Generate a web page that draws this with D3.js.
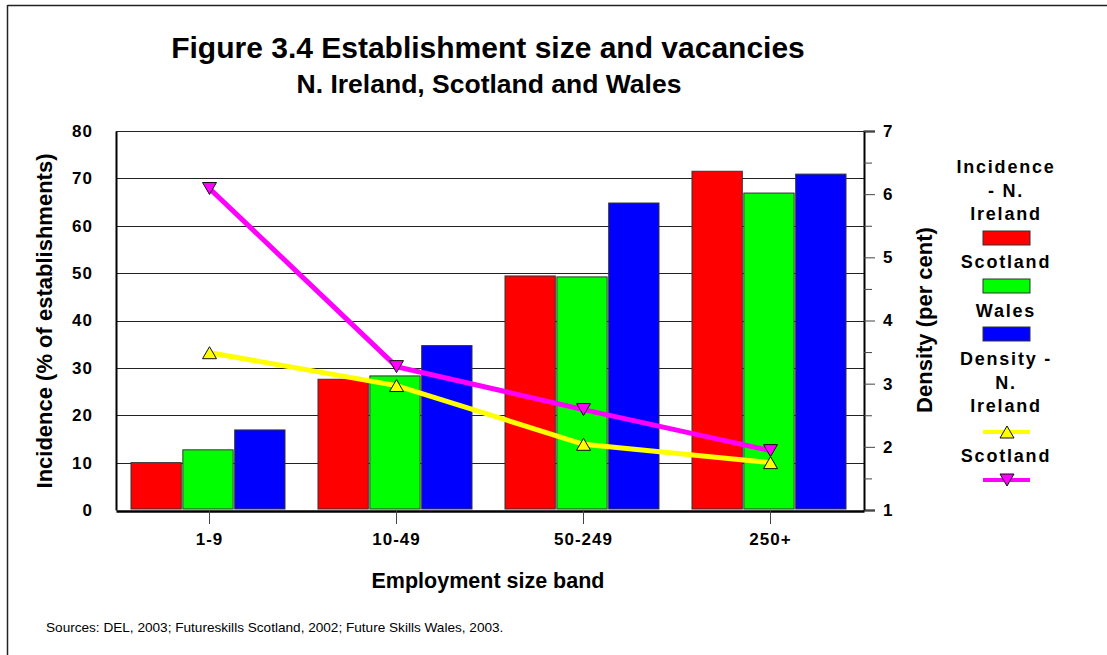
<!DOCTYPE html>
<html>
<head>
<meta charset="utf-8">
<script src="https://cdn.jsdelivr.net/npm/d3@7"></script>
<style>
  html, body { margin: 0; padding: 0; background: #fff; }
  svg { display: block; font-family: Arial, "Liberation Sans", sans-serif; }
</style>
</head>
<body>
<svg id="chart" width="1107" height="655"></svg>
<script>
// Employment size bands
const categories = ["1-9", "10-49", "50-249", "250+"];

// Incidence of vacancies (% of establishments), left axis
const incidenceNI = [10, 27.6, 49.4, 71.5];
const incidenceScotland = [12.7, 28.3, 49.2, 66.9];
const incidenceWales = [16.9, 34.7, 64.8, 70.9];

// Vacancy density (per cent), right axis
const densityNI = [3.49, 2.97, 2.04, 1.75];
const densityScotland = [6.09, 3.27, 2.59, 1.94];

const leftTicks = [0, 10, 20, 30, 40, 50, 60, 70, 80];
const rightTicks = [1, 2, 3, 4, 5, 6, 7];
const rightMinorTicks = [1.5, 2.5, 3.5, 4.5, 5.5, 6.5];

const barSeries = [
  { name: "Incidence - N. Ireland", values: incidenceNI, color: "#ff0000" },
  { name: "Scotland", values: incidenceScotland, color: "#00ff00" },
  { name: "Wales", values: incidenceWales, color: "#0000ff" }
];
const lineSeries = [
  { name: "Density - N. Ireland", values: densityNI, color: "#ffff00", symbol: "up" },
  { name: "Scotland", values: densityScotland, color: "#ff00ff", symbol: "down" }
];

const svg = d3.select("#chart");
const plot = { left: 116, right: 864, top: 131, bottom: 510 };
const FONT = "Arial, 'Liberation Sans', sans-serif";

// Outer frame (top and left edges)
svg.append("line").attr("x1", 7.5).attr("x2", 1107).attr("y1", 5.5).attr("y2", 5.5)
  .attr("stroke", "#222").attr("stroke-width", 1.5);
svg.append("line").attr("x1", 7.5).attr("x2", 7.5).attr("y1", 5).attr("y2", 655)
  .attr("stroke", "#222").attr("stroke-width", 1.5);

// Titles
svg.append("text").attr("x", 488).attr("y", 58).attr("text-anchor", "middle")
  .attr("font-size", 30).attr("font-weight", "bold").attr("fill", "#000")
  .text("Figure 3.4 Establishment size and vacancies");
svg.append("text").attr("x", 489).attr("y", 93).attr("text-anchor", "middle")
  .attr("font-size", 26.5).attr("font-weight", "bold").attr("fill", "#000")
  .text("N. Ireland, Scotland and Wales");

// Scales
const x0 = d3.scaleBand().domain(categories).range([plot.left, plot.right]);
const x1 = d3.scaleBand().domain(d3.range(barSeries.length))
  .range([15, x0.bandwidth() - 18]).paddingInner(0.03);
const yL = d3.scaleLinear().domain([0, 80]).range([plot.bottom, plot.top]);
const yR = d3.scaleLinear().domain([1, 7]).range([plot.bottom, plot.top]);

// Horizontal gridlines
svg.append("g").selectAll("line").data(leftTicks.slice(1)).join("line")
  .attr("x1", plot.left).attr("x2", plot.right)
  .attr("y1", d => Math.round(yL(d)) + 0.5).attr("y2", d => Math.round(yL(d)) + 0.5)
  .attr("stroke", "#222").attr("stroke-width", 1);

// Bars
barSeries.forEach((s, i) => {
  svg.append("g").selectAll("rect").data(s.values).join("rect")
    .attr("x", (d, j) => x0(categories[j]) + x1(i))
    .attr("width", x1.bandwidth())
    .attr("y", d => yL(d))
    .attr("height", d => yL(0) - yL(d) - 1)
    .attr("fill", s.color)
    .attr("stroke", "#333").attr("stroke-width", 1);
});

// Axes
const axisLeft = d3.axisLeft(yL).tickValues(leftTicks).tickSize(0).tickPadding(23);
const gL = svg.append("g").attr("transform", `translate(${plot.left},0)`).call(axisLeft);
gL.select(".domain").attr("stroke", "#000").attr("stroke-width", 2);
gL.selectAll("text").attr("font-size", 17).attr("font-weight", "bold")
  .attr("letter-spacing", 1).attr("font-family", FONT).attr("fill", "#000");

const axisRight = d3.axisRight(yR).tickValues(rightTicks).tickSize(11).tickPadding(8)
  .tickFormat(d3.format("d"));
const gR = svg.append("g").attr("transform", `translate(${plot.right},0)`).call(axisRight);
gR.select(".domain").attr("stroke", "#000").attr("stroke-width", 2);
gR.selectAll(".tick line").attr("stroke", "#444");
gR.selectAll("text").attr("font-size", 17).attr("font-weight", "bold")
  .attr("font-family", FONT).attr("fill", "#000");
const axisRightMinor = d3.axisRight(yR).tickValues(rightMinorTicks).tickSize(8).tickFormat("");
const gRm = svg.append("g").attr("transform", `translate(${plot.right},0)`).call(axisRightMinor);
gRm.select(".domain").remove();
gRm.selectAll(".tick line").attr("stroke", "#444");

const axisBottom = d3.axisBottom(x0).tickSize(13).tickPadding(9).tickSizeOuter(0);
const gB = svg.append("g").attr("transform", `translate(0,${plot.bottom + 1})`).call(axisBottom);
gB.select(".domain").attr("stroke", "#000").attr("stroke-width", 2.5);
gB.selectAll(".tick line").attr("stroke", "#444");
gB.selectAll("text").attr("font-size", 17).attr("font-weight", "bold")
  .attr("letter-spacing", 1).attr("font-family", FONT).attr("fill", "#000");

// Top edge of the plot
svg.append("line").attr("x1", plot.left).attr("x2", plot.right)
  .attr("y1", plot.top + 0.5).attr("y2", plot.top + 0.5).attr("stroke", "#222");

// Density lines
const symbolPath = (dir) => dir === "up" ? "M0,-6L7,6L-7,6Z" : "M0,6L7,-6L-7,-6Z";
const line = d3.line().x((d, j) => x0(categories[j]) + x0.bandwidth() / 2).y(d => yR(d));
lineSeries.forEach(s => {
  svg.append("path").datum(s.values).attr("d", line)
    .attr("fill", "none").attr("stroke", s.color).attr("stroke-width", 5);
});
lineSeries.forEach(s => {
  svg.append("g").selectAll("path").data(s.values).join("path")
    .attr("transform", (d, j) => `translate(${x0(categories[j]) + x0.bandwidth() / 2},${yR(d)})`)
    .attr("d", symbolPath(s.symbol))
    .attr("fill", s.color).attr("stroke", "#111").attr("stroke-width", 1);
});

// Axis titles
svg.append("text").attr("transform", "translate(52,321) rotate(-90)")
  .attr("text-anchor", "middle").attr("font-size", 22).attr("font-weight", "bold")
  .text("Incidence (% of establishments)");
svg.append("text").attr("transform", "translate(932,320) rotate(-90)")
  .attr("text-anchor", "middle").attr("font-size", 22).attr("font-weight", "bold")
  .text("Density (per cent)");
svg.append("text").attr("x", 488).attr("y", 588).attr("text-anchor", "middle")
  .attr("font-size", 21.5).attr("font-weight", "bold")
  .text("Employment size band");

// Source note
svg.append("text").attr("x", 46).attr("y", 632).attr("font-size", 13.6)
  .text("Sources: DEL, 2003; Futureskills Scotland, 2002; Future Skills Wales, 2003.");

// Legend
const legendX = 1006;
const legendText = (lines, y0) => {
  lines.forEach((t, k) => {
    svg.append("text").attr("x", legendX).attr("y", y0 + k * 23.5)
      .attr("text-anchor", "middle").attr("font-size", 18).attr("font-weight", "bold")
      .attr("letter-spacing", 1.8).text(t);
  });
};
legendText(["Incidence", "- N.", "Ireland"], 173);
legendText(["Scotland"], 268);
legendText(["Wales"], 317);
legendText(["Density -", "N.", "Ireland"], 365);
legendText(["Scotland"], 462);
const swatchY = [231, 279, 327];
barSeries.forEach((s, i) => {
  svg.append("rect").attr("x", 983).attr("y", swatchY[i]).attr("width", 47).attr("height", 14)
    .attr("fill", s.color).attr("stroke", "#333");
});
const lineLegY = [432, 480];
lineSeries.forEach((s, i) => {
  svg.append("line").attr("x1", 983).attr("x2", 1030)
    .attr("y1", lineLegY[i]).attr("y2", lineLegY[i])
    .attr("stroke", s.color).attr("stroke-width", 4);
  svg.append("path").attr("transform", `translate(1007,${lineLegY[i]})`)
    .attr("d", symbolPath(s.symbol)).attr("fill", s.color)
    .attr("stroke", "#111").attr("stroke-width", 1);
});
</script>
</body>
</html>
